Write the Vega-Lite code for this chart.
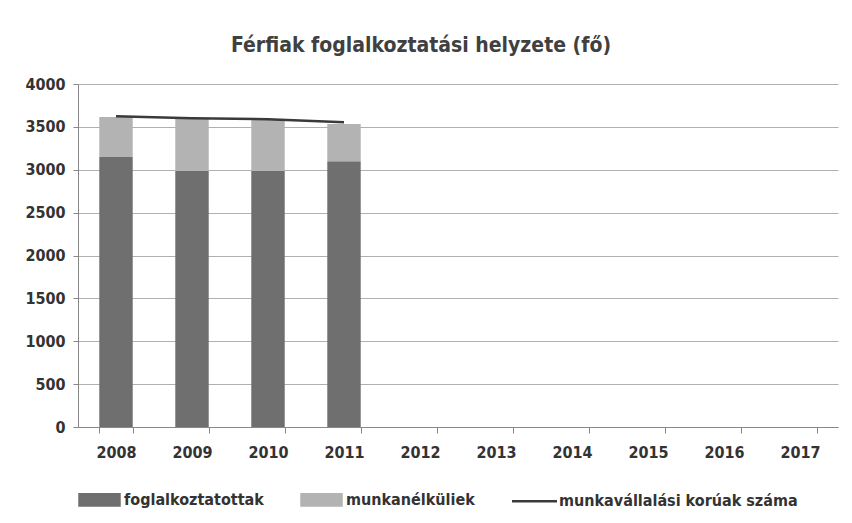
{
  "$schema": "https://vega.github.io/schema/vega-lite/v6.json",
  "width": 760,
  "height": 343,
  "autosize": {"type": "none"},
  "padding": {"left": 78, "top": 84, "right": 14, "bottom": 96},
  "background": "white",
  "title": {
    "text": "Férfiak foglalkoztatási helyzete (fő)",
    "font": "DejaVu Sans Condensed",
    "fontSize": 21,
    "fontWeight": "bold",
    "color": "#404040",
    "anchor": "middle",
    "dx": -37,
    "offset": 20
  },
  "config": {
    "view": {"stroke": null},
    "axis": {
      "labelFont": "DejaVu Sans Condensed",
      "labelFontWeight": "bold",
      "labelFontSize": 16,
      "labelColor": "#333333",
      "domainColor": "#888888",
      "tickColor": "#888888",
      "title": null
    },
    "legend": {
      "labelFont": "DejaVu Sans Condensed",
      "labelFontWeight": "bold",
      "labelFontSize": 16,
      "labelColor": "#333333",
      "labelLimit": 400
    }
  },
  "data": {
    "values": [
      {"year": "2008", "series": "foglalkoztatottak", "value": 3150},
      {"year": "2008", "series": "munkanélküliek", "value": 465},
      {"year": "2008", "series": "munkavállalási korúak száma", "value": 3625},
      {"year": "2009", "series": "foglalkoztatottak", "value": 2985},
      {"year": "2009", "series": "munkanélküliek", "value": 607},
      {"year": "2009", "series": "munkavállalási korúak száma", "value": 3600},
      {"year": "2010", "series": "foglalkoztatottak", "value": 2985},
      {"year": "2010", "series": "munkanélküliek", "value": 595},
      {"year": "2010", "series": "munkavállalási korúak száma", "value": 3590},
      {"year": "2011", "series": "foglalkoztatottak", "value": 3100},
      {"year": "2011", "series": "munkanélküliek", "value": 434},
      {"year": "2011", "series": "munkavállalási korúak száma", "value": 3555}
    ]
  },
  "encoding": {
    "x": {
      "field": "year",
      "type": "ordinal",
      "scale": {
        "domain": ["2008", "2009", "2010", "2011", "2012", "2013", "2014", "2015", "2016", "2017"],
        "paddingInner": 0.56,
        "paddingOuter": 0.28
      },
      "axis": {
        "labelAngle": 0,
        "labelPadding": 11,
        "tickBand": "extent",
        "tickSize": 6,
        "grid": false
      }
    }
  },
  "layer": [
    {
      "transform": [{"filter": "datum.series != 'munkavállalási korúak száma'"}],
      "mark": {"type": "bar"},
      "encoding": {
        "y": {
          "field": "value",
          "type": "quantitative",
          "stack": "zero",
          "scale": {"domain": [0, 4000]},
          "axis": {
            "values": [0, 500, 1000, 1500, 2000, 2500, 3000, 3500, 4000],
            "format": "d",
            "gridColor": "#b0b0b0",
            "tickSize": 5,
            "labelPadding": 8
          }
        },
        "order": {"field": "series", "sort": "ascending"},
        "color": {
          "field": "series",
          "type": "nominal",
          "scale": {
            "domain": ["foglalkoztatottak", "munkanélküliek", "munkavállalási korúak száma"],
            "range": ["#6f6f6f", "#b3b3b3", "#3a3a3a"]
          },
          "legend": {
            "title": null,
            "orient": "bottom",
            "direction": "horizontal",
            "offset": 18,
            "columnPadding": 32,
            "labelOffset": 3,
            "encode": {
              "symbols": {
                "update": {
                  "shape": {"signal": "datum.value == 'munkavállalási korúak száma' ? 'stroke' : 'M-1,-0.28H1V0.28H-1Z'"},
                  "size": {"signal": "datum.value == 'munkavállalási korúak száma' ? 2025 : 1600"},
                  "stroke": {"signal": "scale('color', datum.value)"},
                  "strokeWidth": {"value": 2.5},
                  "fill": {"signal": "scale('color', datum.value)"},
                  "opacity": {"value": 1}
                }
              }
            }
          }
        }
      }
    },
    {
      "transform": [{"filter": "datum.series == 'munkavállalási korúak száma'"}],
      "mark": {"type": "line", "strokeWidth": 2.5},
      "encoding": {
        "y": {"field": "value", "type": "quantitative"},
        "color": {"field": "series", "type": "nominal"}
      }
    }
  ]
}
